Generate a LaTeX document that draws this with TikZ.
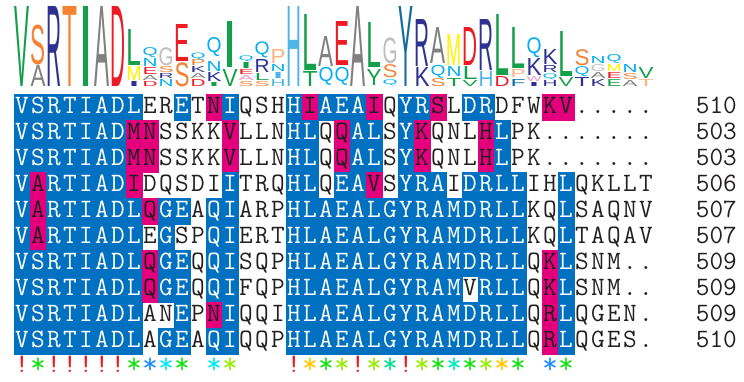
\documentclass[tikz,border=0pt]{standalone}
\usepackage{fontspec}
\usepackage{graphicx}
\newfontfamily\logofont{Liberation Sans}
% alignment colours
\definecolor{alblue}{RGB}{0,112,192}
\definecolor{almag}{RGB}{228,0,124}
\definecolor{altext}{RGB}{35,31,32}
% logo colours
\definecolor{lgreen}{RGB}{20,160,75}
\definecolor{lorange}{RGB}{245,130,50}
\definecolor{lnavy}{RGB}{46,49,146}
\definecolor{lgrey}{RGB}{128,128,128}
\definecolor{llgrey}{RGB}{190,190,190}
\definecolor{lred}{RGB}{237,28,36}
\definecolor{lcyan}{RGB}{0,174,239}
\definecolor{lyellow}{RGB}{255,242,0}
\definecolor{lsky}{RGB}{80,180,230}
\definecolor{lteal}{RGB}{20,110,160}
\definecolor{lpink}{RGB}{240,150,200}
\definecolor{lpeach}{RGB}{250,180,130}
% conservation colours
\definecolor{cred}{RGB}{240,20,20}
\definecolor{cgreen}{RGB}{20,225,20}
\definecolor{cblue}{RGB}{30,140,255}
\definecolor{ccyan}{RGB}{0,235,240}
\definecolor{cyg}{RGB}{150,235,0}
\definecolor{cgold}{RGB}{255,200,0}
\definecolor{cspring}{RGB}{0,225,140}
\definecolor{caqua}{RGB}{0,235,190}

\def\popA#1#2\endmark{\gdef\chA{#1}\gdef\seqrest{#2}}
\def\popB#1#2\endmark{\gdef\chB{#1}\gdef\colrest{#2}}
\newcount\cidx

\newcommand\drawcell[4]{%
  \pgfmathsetmacro\cx{14+(#2-1)*16}%
  \pgfmathsetmacro\cy{94.3+(#1-1)*25.97}%
  \def\tc{altext}%
  \if#4B\filldraw[alblue,line width=0.4pt] (\cx,\cy) rectangle ++(16,25.97);\def\tc{white}\fi
  \if#4M\filldraw[almag,line width=0.4pt] (\cx,\cy) rectangle ++(16,25.97);\fi
  \node[restxt,text=\tc] (c#1-#2) at ({\cx+8},{\cy+19.3}) {#3};%
}
\newcommand\alrow[4]{%
  \gdef\seqrest{#2}\gdef\colrest{#3}\global\cidx=0
  \loop
    \global\advance\cidx by 1
    \expandafter\popA\seqrest\endmark
    \expandafter\popB\colrest\endmark
    \edef\curcol{\the\cidx}%
    \drawcell{#1}{\curcol}{\chA}{\chB}%
  \ifnum\cidx<40 \repeat
  \node[restxt,text=altext,anchor=base east] (num#1) at (737,{94.3+(#1-1)*25.97+19.3}) {#4};%
}

\begin{document}
\begin{tikzpicture}[x=1pt,y=-1pt,
  restxt/.style={inner sep=0pt,anchor=base,font=\ttfamily\fontsize{26.5}{30}\selectfont},
  startxt/.style={inner sep=0pt,anchor=center,font=\ttfamily\fontsize{30}{34}\selectfont},
  logoletter/.style={inner sep=0pt,anchor=south west}]
\useasboundingbox (0,0) rectangle (744,381);

% sequence logo
\foreach \c/\l/\cl/\t/\b [count=\k] in {
 1/V/lgreen/7/87,
 2/A/lgrey/66/87, 2/S/lorange/25/65,
 3/R/lnavy/7/87,
 4/T/lorange/7/87,
 5/I/lgreen/7/87,
 6/A/lgrey/7/87,
 7/D/lred/7/87,
 8/I/lnavy/82/87, 8/M/lyellow/67/81, 8/L/lgreen/30/66,
 9/D/lred/82/87, 9/A/lgrey/76/81, 9/E/lred/68/75, 9/N/lcyan/59/67, 9/Q/lcyan/48/58,
 10/N/lcyan/80/87, 10/R/lnavy/74/79, 10/S/lorange/67/73, 10/G/llgrey/48/66,
 11/S/lorange/63/87, 11/E/lred/25/62,
 12/D/lred/80/87, 12/A/lgrey/74/79, 12/K/lnavy/67/73, 12/P/lorange/60/66, 12/Q/lcyan/53/60,
 13/I/lgreen/83/87, 13/K/lnavy/73/82, 13/N/lcyan/62/72, 13/Q/lcyan/38/57,
 14/V/lgreen/70/87, 14/I/lgreen/22/68,
 15/S/lorange/82/87, 15/A/lpink/76/81, 15/E/lred/70/75, 15/I/lgreen/63/69, 15/Q/lcyan/56/62,
 16/S/lorange/82/87, 16/L/lgreen/74/81, 16/R/lnavy/60/73, 16/Q/lcyan/42/58,
 17/H/lsky/80/87, 17/I/lsky/73/79, 17/N/lcyan/65/72, 17/P/lpeach/50/64,
 18/H/lsky/7/87,
 19/T/lgreen/72/87, 19/L/lgreen/15/71,
 20/Q/lcyan/68/86, 20/A/lgrey/37/67,
 21/Q/lcyan/68/86, 21/E/lred/22/66,
 22/A/lgrey/7/87,
 23/Y/lgreen/70/86, 23/L/lgreen/23/68,
 24/Q/lcyan/80/86, 24/S/lorange/65/78, 24/G/llgrey/38/64,
 25/Y/lteal/7/87,
 26/K/lnavy/68/87, 26/R/lnavy/20/67,
 27/S/lorange/79/87, 27/Q/lcyan/65/78, 27/A/lgrey/28/64,
 28/T/lgreen/79/87, 28/N/lcyan/67/77, 28/M/lyellow/35/66,
 29/V/lgreen/81/87, 29/L/lgreen/67/80, 29/D/lred/28/66,
 30/H/lsky/72/87, 30/R/lnavy/20/71,
 31/D/lred/77/87, 31/L/lgreen/15/76,
 32/F/lteal/80/87, 32/P/lpeach/70/78, 32/L/lgreen/28/69,
 33/I/lnavy/83/87, 33/W/lpink/77/82, 33/K/lnavy/59/76, 33/Q/lcyan/38/58,
 34/H/lnavy/81/87, 34/Q/lcyan/74/80, 34/R/lnavy/66/73, 34/K/lnavy/50/65,
 35/V/lgreen/78/87, 35/L/lgreen/32/77,
 36/T/lnavy/78/87, 36/Q/lcyan/67/77, 36/S/lorange/50/66,
 37/K/lnavy/80/87, 37/A/lgrey/73/79, 37/G/llgrey/65/72, 37/N/lcyan/57/64,
 38/E/lgreen/80/87, 38/E/lred/73/79, 38/M/lyellow/65/72, 38/Q/lcyan/55/64,
 39/A/lgrey/81/87, 39/S/lorange/74/80, 39/N/lcyan/65/73,
 40/T/lpeach/80/87, 40/V/lgreen/68/79}
{
  \pgfmathsetmacro\hh{\b-\t}
  \node[logoletter,text=\cl] (lg\k) at ({14+(\c-1)*16+0.5},\b) {\resizebox*{15pt}{\hh pt}{\logofont \l}};
}

% alignment
\alrow{1}{VSRTIADLERETNIQSHHIAEAIQYRSLDRDFWKV.....}{BBBBBBBBWWBWMBWWWBMBBBMWBBMWBBWWWMMWWWWW}{510}
\alrow{2}{VSRTIADMNSSKKVLLNHLQQALSYKQNLHLPK.......}{BBBBBBBMMWWWWMWWWBBWMBBWBMWWWMBWWWWWWWWW}{503}
\alrow{3}{VSRTIADMNSSKKVLLNHLQQALSYKQNLHLPK.......}{BBBBBBBMMWWWWMWWWBBWMBBWBMWWWMBWWWWWWWWW}{503}
\alrow{4}{VARTIADIDQSDIITRQHLQEAVSYRAIDRLLIHLQKLLT}{BMBBBBBMWWWWWBWWWBBWBBMWBBBWBBBBWWBWWWWW}{506}
\alrow{5}{VARTIADLQGEAQIARPHLAEALGYRAMDRLLKQLSAQNV}{BMBBBBBBMBBWBBWWWBBBBBBBBBBBBBBBWWBWWWWW}{507}
\alrow{6}{VARTIADLEGSPQIERTHLAEALGYRAMDRLLKQLTAQAV}{BMBBBBBBWBWWBBWWWBBBBBBBBBBBBBBBWWBWWWWW}{507}
\alrow{7}{VSRTIADLQGEQQISQPHLAEALGYRAMDRLLQKLSNM..}{BBBBBBBBMBBWBBWWWBBBBBBBBBBBBBBBWMBWWWWW}{509}
\alrow{8}{VSRTIADLQGEQQIFQPHLAEALGYRAMVRLLQKLSNM..}{BBBBBBBBMBBWBBWWWBBBBBBBBBBBWBBBWMBWWWWW}{509}
\alrow{9}{VSRTIADLANEPNIQQIHLAEALGYRAMDRLLQRLQGEN.}{BBBBBBBBWWBWMBWWWBBBBBBBBBBBBBBBWMBWWWWW}{509}
\alrow{10}{VSRTIADLAGEAQIQQPHLAEALGYRAMDRLLQRLQGES.}{BBBBBBBBWBBWBBWWWBBBBBBBBBBBBBBBWMBWWWWW}{510}

% conservation line
\foreach \c [count=\k] in {1,3,4,5,6,7,18,22,25}
  \node[restxt,text=cred] (ex\k) at ({14+(\c-0.5)*16},372) {!};
\foreach \c/\cl [count=\k] in {2/cgreen,8/cgreen,9/cblue,10/ccyan,11/cgreen,13/ccyan,14/cyg,
  19/cgold,20/cgreen,21/cyg,23/cyg,24/cspring,26/cyg,27/cgreen,28/caqua,29/cgreen,30/cyg,
  31/cgold,32/cgreen,34/cblue,35/cgreen}
  \node[startxt,text=\cl] (st\k) at ({14+(\c-0.5)*16},365.5) {*};
\end{tikzpicture}
\end{document}
